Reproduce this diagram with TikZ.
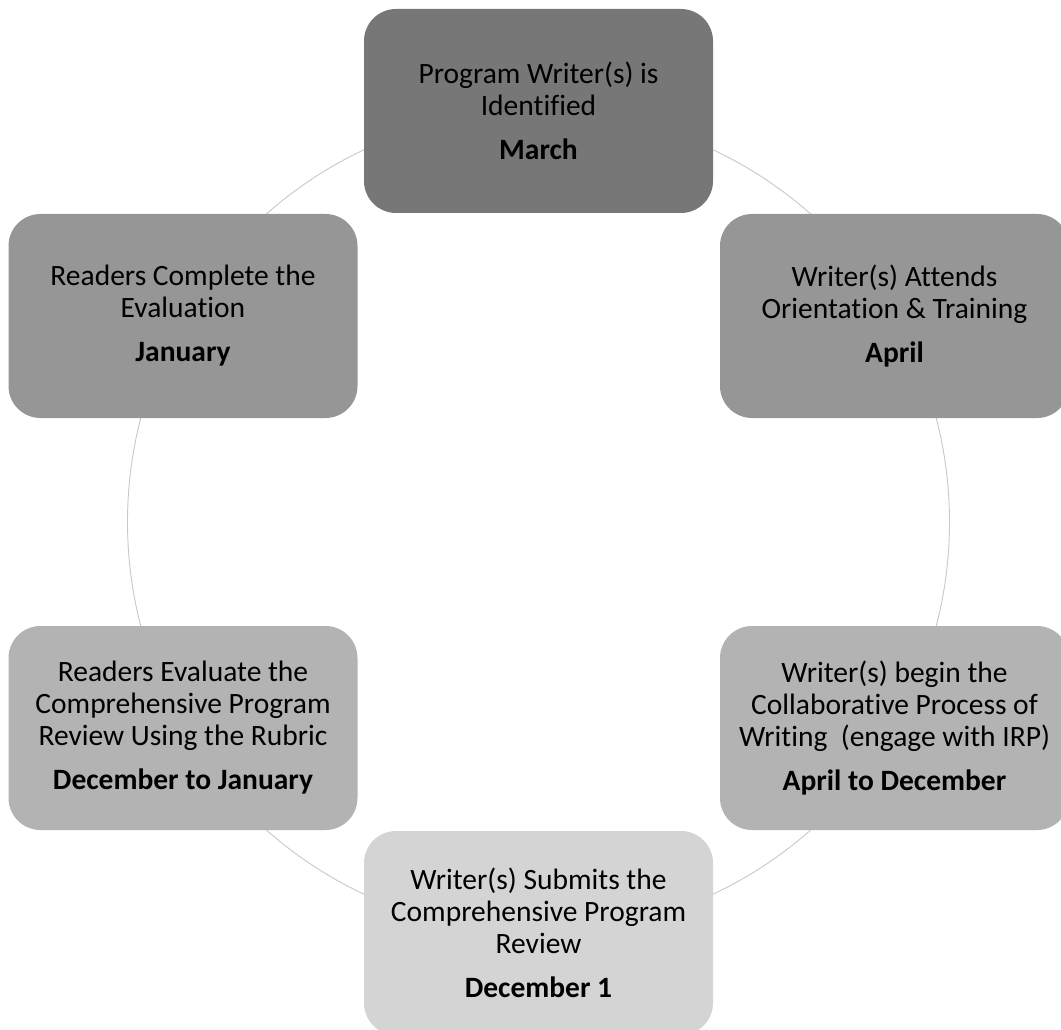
\documentclass[tikz,border=0pt]{standalone}
\usepackage{fontspec}
\setmainfont{Carlito}[Ligatures=NoCommon]
\definecolor{ringgray}{HTML}{C8C8C8}
\definecolor{shadeA}{HTML}{777777}
\definecolor{shadeB}{HTML}{969696}
\definecolor{shadeC}{HTML}{B3B3B3}
\definecolor{shadeD}{HTML}{D4D4D4}
\begin{document}
\begin{tikzpicture}[x=1pt,y=-1pt,
  stage/.style={draw=none, rounded corners=32pt, minimum width=349pt, minimum height=204pt,
    align=center, inner sep=0pt, font=\fontsize{29.5}{32}\selectfont, text=black},
  ring/.style={draw=ringgray, line width=0.9pt}]
\useasboundingbox (0,0) rectangle (1061,1030);
\clip (0,0) rectangle (1061,1030);
\coordinate (c) at (538.5,522);
\draw[ring] (c) circle (411);
\node[stage, fill=shadeA] (n1) at (538.5,111) {Program Writer(s) is\\Identified\\[12pt]\textbf{March}};
\node[stage, fill=shadeB] (n2) at (894.5,316) {Writer(s) Attends\\Orientation \& Training\\[12pt]\textbf{April}};
\node[stage, fill=shadeC] (n3) at (894.5,728) {Writer(s) begin the\\Collaborative Process of\\Writing\ \ (engage with IRP)\\[12pt]\textbf{April to December}};
\node[stage, fill=shadeD] (n4) at (538.5,933) {Writer(s) Submits the\\Comprehensive Program\\Review\\[12pt]\textbf{December 1}};
\node[stage, fill=shadeC] (n5) at (183,728) {Readers Evaluate the\\Comprehensive Program\\Review Using the Rubric\\[12pt]\textbf{December to January}};
\node[stage, fill=shadeB] (n6) at (183,316) {Readers Complete the\\Evaluation\\[12pt]\textbf{January}};
\end{tikzpicture}
\end{document}
